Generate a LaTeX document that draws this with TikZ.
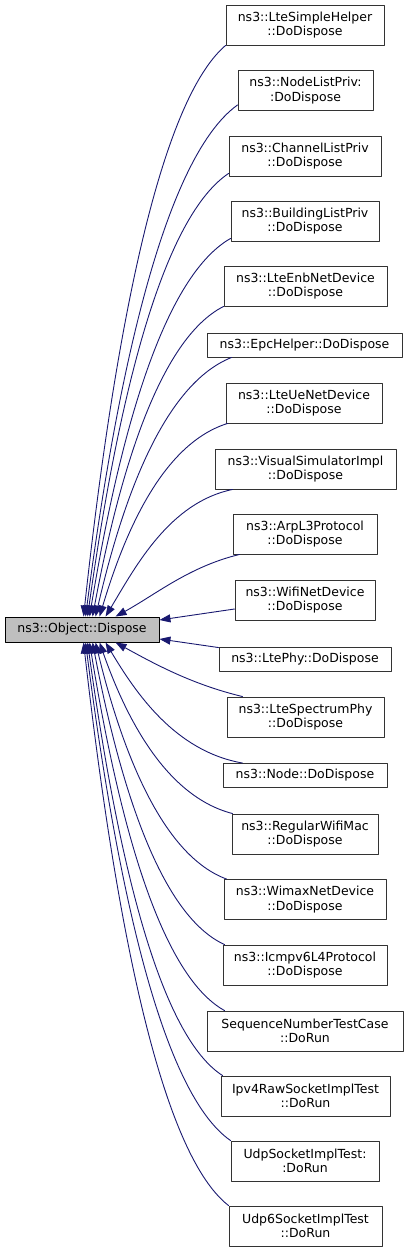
\documentclass[tikz,border=0pt]{standalone}
\usepackage{fontspec}
\setmainfont{DejaVu Sans}
\usetikzlibrary{arrows.meta}

\definecolor{edgeblue}{HTML}{191970}
\definecolor{maingray}{HTML}{BFBFBF}

\tikzset{
  callerbox/.style={draw=black!80, line width=0.9pt, fill=white, align=center,
    inner sep=0pt, minimum height=40pt, font=\fontsize{12.5}{14.3}\selectfont},
  onelinebox/.style={callerbox, minimum height=24pt},
  mainbox/.style={draw=black, line width=0.9pt, fill=maingray, inner sep=0pt,
    minimum height=25pt, font=\fontsize{12.5}{14.3}\selectfont},
  calledge/.style={edgeblue, line width=0.9pt, -{Triangle[length=11pt,width=8pt]}}
}

\begin{document}
\begin{tikzpicture}[x=1pt,y=1pt,line cap=round,line join=round]
  \useasboundingbox (0,0) rectangle (408,-1252);

  % called function
  \node[mainbox, minimum width=154pt] (dispose) at (82,-629.5) {ns3::Object::Dispose};

  % callers
  \node[callerbox, minimum width=158pt] (ltesimple) at (305,-25) {ns3::LteSimpleHelper\\::DoDispose};
  \node[callerbox, minimum width=135pt] (nodelist) at (305.5,-90.5) {ns3::NodeListPriv:\\:DoDispose};
  \node[callerbox, minimum width=152pt] (channellist) at (305,-156) {ns3::ChannelListPriv\\::DoDispose};
  \node[callerbox, minimum width=148pt] (buildinglist) at (305,-221) {ns3::BuildingListPriv\\::DoDispose};
  \node[callerbox, minimum width=163pt] (enbdev) at (305.5,-286) {ns3::LteEnbNetDevice\\::DoDispose};
  \node[onelinebox, minimum width=195pt] (epchelper) at (304.5,-345) {ns3::EpcHelper::DoDispose};
  \node[callerbox, minimum width=156pt] (uedev) at (304,-403) {ns3::LteUeNetDevice\\::DoDispose};
  \node[callerbox, minimum width=181pt] (visualsim) at (305.5,-469) {ns3::VisualSimulatorImpl\\::DoDispose};
  \node[callerbox, minimum width=144pt] (arpl3) at (305,-534) {ns3::ArpL3Protocol\\::DoDispose};
  \node[callerbox, minimum width=140pt] (wifidev) at (305,-600) {ns3::WifiNetDevice\\::DoDispose};
  \node[onelinebox, minimum width=172pt] (ltephy) at (305,-659) {ns3::LtePhy::DoDispose};
  \node[callerbox, minimum width=157pt] (spectrumphy) at (305.5,-717) {ns3::LteSpectrumPhy\\::DoDispose};
  \node[onelinebox, minimum width=164pt] (nodedisp) at (305,-775.5) {ns3::Node::DoDispose};
  \node[callerbox, minimum width=146pt] (regularmac) at (305,-834) {ns3::RegularWifiMac\\::DoDispose};
  \node[callerbox, minimum width=162pt] (wimaxdev) at (305,-899.5) {ns3::WimaxNetDevice\\::DoDispose};
  \node[callerbox, minimum width=164pt] (icmpv6) at (305,-965) {ns3::Icmpv6L4Protocol\\::DoDispose};
  \node[callerbox, minimum width=196pt] (seqnumtest) at (305,-1031) {SequenceNumberTestCase\\::DoRun};
  \node[callerbox, minimum width=169pt] (rawsocktest) at (305.5,-1096) {Ipv4RawSocketImplTest\\::DoRun};
  \node[callerbox, minimum width=148pt] (udptest) at (305,-1161) {UdpSocketImplTest:\\:DoRun};
  \node[callerbox, minimum width=153pt] (udp6test) at (305.5,-1226) {Udp6SocketImplTest\\::DoRun};

  % edges into the top of the main box
  \draw[calledge] (ltesimple.south west) .. controls +(-70,-60) and +(28,258) .. ([xshift=79pt]dispose.north west);
  \draw[calledge] ([yshift=6pt]nodelist.south west) .. controls +(-75,-54) and +(30,231) .. ([xshift=81pt]dispose.north west);
  \draw[calledge] ([yshift=3pt]channellist.south west) .. controls +(-70,-47) and +(28,200) .. ([xshift=83pt]dispose.north west);
  \draw[calledge] ([yshift=3pt]buildinglist.south west) .. controls +(-70,-40) and +(28,170) .. ([xshift=85pt]dispose.north west);
  \draw[calledge] (enbdev.south west) .. controls +(-65,-33) and +(26,140) .. ([xshift=88pt]dispose.north west);
  \draw[calledge] ([xshift=25pt]epchelper.south west) .. controls +(-68,-27) and +(27,117) .. ([xshift=91pt]dispose.north west);
  \draw[calledge] ([xshift=2pt]uedev.south west) .. controls +(-64,-20) and +(26,87) .. ([xshift=95pt]dispose.north west);
  \draw[calledge] ([xshift=18pt]visualsim.south west) .. controls +(-63,-13) and +(30,50) .. ([xshift=101pt]dispose.north west);
  \draw[calledge] ([xshift=7pt]arpl3.south west) .. controls +(-50,-12) and +(40,22) .. ([xshift=111pt]dispose.north west);

  % edges into the side of the main box
  \draw[calledge] ([yshift=-9pt]wifidev.west) -- ([yshift=9.5pt]dispose.east);
  \draw[calledge] ([yshift=-1pt]ltephy.north west) -- ([yshift=-9.5pt]dispose.east);

  % edges into the bottom of the main box
  \draw[calledge] ([xshift=16pt]spectrumphy.north west) .. controls +(-50,12) and +(40,-22) .. ([xshift=111pt]dispose.south west);
  \draw[calledge] ([xshift=20pt]nodedisp.north west) .. controls +(-68,12) and +(30,-50) .. ([xshift=101pt]dispose.south west);
  \draw[calledge] ([xshift=1pt]regularmac.north west) .. controls +(-66,17) and +(27,-77) .. ([xshift=95pt]dispose.south west);
  \draw[calledge] ([xshift=3pt]wimaxdev.north west) .. controls +(-65,24) and +(26,-107) .. ([xshift=91pt]dispose.south west);
  \draw[calledge] ([xshift=2pt]icmpv6.north west) .. controls +(-66,30) and +(26,-136) .. ([xshift=88pt]dispose.south west);
  \draw[calledge] ([xshift=18pt]seqnumtest.north west) .. controls +(-67,37) and +(27,-166) .. ([xshift=85pt]dispose.south west);
  \draw[calledge] ([xshift=2pt]rawsocktest.north west) .. controls +(-67,43) and +(27,-195) .. ([xshift=83pt]dispose.south west);
  \draw[calledge] (udptest.north west) .. controls +(-72,50) and +(29,-225) .. ([xshift=81pt]dispose.south west);
  \draw[calledge] (udp6test.north west) .. controls +(-72,56) and +(29,-254) .. ([xshift=79pt]dispose.south west);
\end{tikzpicture}
\end{document}
